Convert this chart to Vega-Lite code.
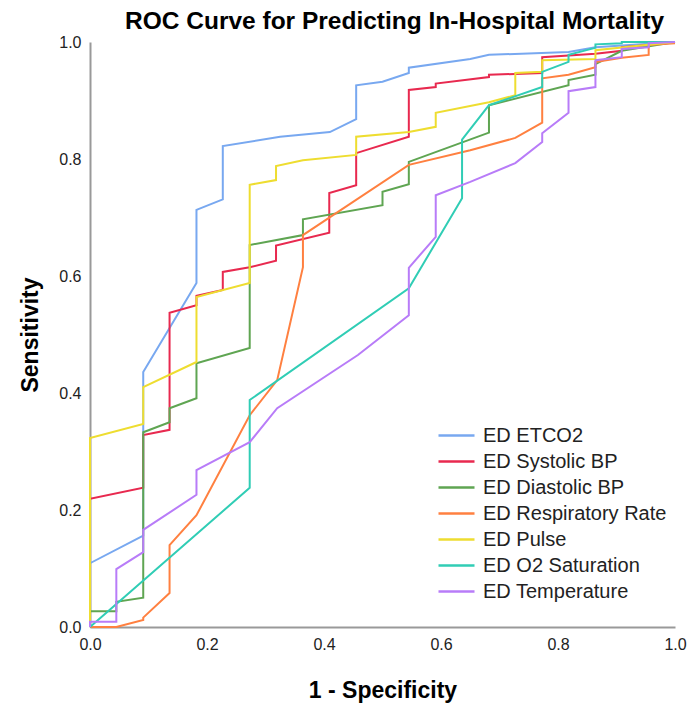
{
  "$schema": "https://vega.github.io/schema/vega-lite/v6.json",
  "width": 585,
  "height": 585,
  "autosize": "none",
  "padding": {"left": 90, "top": 42, "right": 13, "bottom": 81},
  "background": "white",
  "title": {
    "text": "ROC Curve for Predicting In-Hospital Mortality",
    "fontSize": 24.5,
    "fontWeight": "bold",
    "font": "Liberation Sans",
    "color": "#000000",
    "anchor": "middle",
    "dx": 12,
    "offset": 0
  },
  "config": {
    "view": {"stroke": null},
    "font": "Liberation Sans"
  },
  "data": {
    "values": [
      {"s": "ED ETCO2", "i": 0, "x": 0, "y": 0},
      {"s": "ED ETCO2", "i": 1, "x": 0, "y": 0.109},
      {"s": "ED ETCO2", "i": 2, "x": 0.091, "y": 0.156},
      {"s": "ED ETCO2", "i": 3, "x": 0.091, "y": 0.436},
      {"s": "ED ETCO2", "i": 4, "x": 0.182, "y": 0.588},
      {"s": "ED ETCO2", "i": 5, "x": 0.182, "y": 0.713},
      {"s": "ED ETCO2", "i": 6, "x": 0.227, "y": 0.731},
      {"s": "ED ETCO2", "i": 7, "x": 0.227, "y": 0.822},
      {"s": "ED ETCO2", "i": 8, "x": 0.325, "y": 0.838},
      {"s": "ED ETCO2", "i": 9, "x": 0.41, "y": 0.846},
      {"s": "ED ETCO2", "i": 10, "x": 0.455, "y": 0.868},
      {"s": "ED ETCO2", "i": 11, "x": 0.455, "y": 0.926},
      {"s": "ED ETCO2", "i": 12, "x": 0.5, "y": 0.932},
      {"s": "ED ETCO2", "i": 13, "x": 0.545, "y": 0.947},
      {"s": "ED ETCO2", "i": 14, "x": 0.545, "y": 0.956},
      {"s": "ED ETCO2", "i": 15, "x": 0.65, "y": 0.971},
      {"s": "ED ETCO2", "i": 16, "x": 0.682, "y": 0.978},
      {"s": "ED ETCO2", "i": 17, "x": 0.818, "y": 0.983},
      {"s": "ED ETCO2", "i": 18, "x": 0.864, "y": 0.991},
      {"s": "ED ETCO2", "i": 19, "x": 1, "y": 1},

      {"s": "ED Systolic BP", "i": 0, "x": 0, "y": 0},
      {"s": "ED Systolic BP", "i": 1, "x": 0, "y": 0.219},
      {"s": "ED Systolic BP", "i": 2, "x": 0.091, "y": 0.238},
      {"s": "ED Systolic BP", "i": 3, "x": 0.091, "y": 0.328},
      {"s": "ED Systolic BP", "i": 4, "x": 0.136, "y": 0.337},
      {"s": "ED Systolic BP", "i": 5, "x": 0.136, "y": 0.537},
      {"s": "ED Systolic BP", "i": 6, "x": 0.182, "y": 0.55},
      {"s": "ED Systolic BP", "i": 7, "x": 0.182, "y": 0.566},
      {"s": "ED Systolic BP", "i": 8, "x": 0.227, "y": 0.576},
      {"s": "ED Systolic BP", "i": 9, "x": 0.227, "y": 0.607},
      {"s": "ED Systolic BP", "i": 10, "x": 0.273, "y": 0.615},
      {"s": "ED Systolic BP", "i": 11, "x": 0.318, "y": 0.626},
      {"s": "ED Systolic BP", "i": 12, "x": 0.318, "y": 0.652},
      {"s": "ED Systolic BP", "i": 13, "x": 0.409, "y": 0.674},
      {"s": "ED Systolic BP", "i": 14, "x": 0.409, "y": 0.742},
      {"s": "ED Systolic BP", "i": 15, "x": 0.455, "y": 0.755},
      {"s": "ED Systolic BP", "i": 16, "x": 0.455, "y": 0.81},
      {"s": "ED Systolic BP", "i": 17, "x": 0.545, "y": 0.838},
      {"s": "ED Systolic BP", "i": 18, "x": 0.545, "y": 0.918},
      {"s": "ED Systolic BP", "i": 19, "x": 0.591, "y": 0.923},
      {"s": "ED Systolic BP", "i": 20, "x": 0.591, "y": 0.929},
      {"s": "ED Systolic BP", "i": 21, "x": 0.682, "y": 0.94},
      {"s": "ED Systolic BP", "i": 22, "x": 0.682, "y": 0.944},
      {"s": "ED Systolic BP", "i": 23, "x": 0.773, "y": 0.947},
      {"s": "ED Systolic BP", "i": 24, "x": 0.773, "y": 0.974},
      {"s": "ED Systolic BP", "i": 25, "x": 0.864, "y": 0.98},
      {"s": "ED Systolic BP", "i": 26, "x": 0.909, "y": 0.985},
      {"s": "ED Systolic BP", "i": 27, "x": 0.909, "y": 0.991},
      {"s": "ED Systolic BP", "i": 28, "x": 0.955, "y": 0.995},
      {"s": "ED Systolic BP", "i": 29, "x": 1, "y": 1},

      {"s": "ED Diastolic BP", "i": 0, "x": 0, "y": 0},
      {"s": "ED Diastolic BP", "i": 1, "x": 0, "y": 0.027},
      {"s": "ED Diastolic BP", "i": 2, "x": 0.045, "y": 0.027},
      {"s": "ED Diastolic BP", "i": 3, "x": 0.045, "y": 0.043},
      {"s": "ED Diastolic BP", "i": 4, "x": 0.091, "y": 0.05},
      {"s": "ED Diastolic BP", "i": 5, "x": 0.091, "y": 0.333},
      {"s": "ED Diastolic BP", "i": 6, "x": 0.136, "y": 0.35},
      {"s": "ED Diastolic BP", "i": 7, "x": 0.136, "y": 0.374},
      {"s": "ED Diastolic BP", "i": 8, "x": 0.182, "y": 0.391},
      {"s": "ED Diastolic BP", "i": 9, "x": 0.182, "y": 0.451},
      {"s": "ED Diastolic BP", "i": 10, "x": 0.273, "y": 0.477},
      {"s": "ED Diastolic BP", "i": 11, "x": 0.273, "y": 0.653},
      {"s": "ED Diastolic BP", "i": 12, "x": 0.364, "y": 0.67},
      {"s": "ED Diastolic BP", "i": 13, "x": 0.364, "y": 0.697},
      {"s": "ED Diastolic BP", "i": 14, "x": 0.5, "y": 0.721},
      {"s": "ED Diastolic BP", "i": 15, "x": 0.5, "y": 0.744},
      {"s": "ED Diastolic BP", "i": 16, "x": 0.545, "y": 0.757},
      {"s": "ED Diastolic BP", "i": 17, "x": 0.545, "y": 0.795},
      {"s": "ED Diastolic BP", "i": 18, "x": 0.682, "y": 0.845},
      {"s": "ED Diastolic BP", "i": 19, "x": 0.682, "y": 0.892},
      {"s": "ED Diastolic BP", "i": 20, "x": 0.818, "y": 0.926},
      {"s": "ED Diastolic BP", "i": 21, "x": 0.818, "y": 0.935},
      {"s": "ED Diastolic BP", "i": 22, "x": 0.864, "y": 0.944},
      {"s": "ED Diastolic BP", "i": 23, "x": 0.864, "y": 0.962},
      {"s": "ED Diastolic BP", "i": 24, "x": 0.909, "y": 0.985},
      {"s": "ED Diastolic BP", "i": 25, "x": 1, "y": 1},

      {"s": "ED Respiratory Rate", "i": 0, "x": 0, "y": 0},
      {"s": "ED Respiratory Rate", "i": 1, "x": 0.045, "y": 0},
      {"s": "ED Respiratory Rate", "i": 2, "x": 0.091, "y": 0.012},
      {"s": "ED Respiratory Rate", "i": 3, "x": 0.091, "y": 0.016},
      {"s": "ED Respiratory Rate", "i": 4, "x": 0.136, "y": 0.058},
      {"s": "ED Respiratory Rate", "i": 5, "x": 0.136, "y": 0.14},
      {"s": "ED Respiratory Rate", "i": 6, "x": 0.182, "y": 0.191},
      {"s": "ED Respiratory Rate", "i": 7, "x": 0.273, "y": 0.362},
      {"s": "ED Respiratory Rate", "i": 8, "x": 0.32, "y": 0.422},
      {"s": "ED Respiratory Rate", "i": 9, "x": 0.364, "y": 0.615},
      {"s": "ED Respiratory Rate", "i": 10, "x": 0.364, "y": 0.67},
      {"s": "ED Respiratory Rate", "i": 11, "x": 0.545, "y": 0.79},
      {"s": "ED Respiratory Rate", "i": 12, "x": 0.65, "y": 0.815},
      {"s": "ED Respiratory Rate", "i": 13, "x": 0.727, "y": 0.836},
      {"s": "ED Respiratory Rate", "i": 14, "x": 0.773, "y": 0.862},
      {"s": "ED Respiratory Rate", "i": 15, "x": 0.773, "y": 0.938},
      {"s": "ED Respiratory Rate", "i": 16, "x": 0.818, "y": 0.944},
      {"s": "ED Respiratory Rate", "i": 17, "x": 0.864, "y": 0.957},
      {"s": "ED Respiratory Rate", "i": 18, "x": 0.864, "y": 0.966},
      {"s": "ED Respiratory Rate", "i": 19, "x": 0.909, "y": 0.973},
      {"s": "ED Respiratory Rate", "i": 20, "x": 0.955, "y": 0.978},
      {"s": "ED Respiratory Rate", "i": 21, "x": 0.955, "y": 0.995},
      {"s": "ED Respiratory Rate", "i": 22, "x": 1, "y": 0.998},

      {"s": "ED Pulse", "i": 0, "x": 0, "y": 0},
      {"s": "ED Pulse", "i": 1, "x": 0, "y": 0.323},
      {"s": "ED Pulse", "i": 2, "x": 0.091, "y": 0.347},
      {"s": "ED Pulse", "i": 3, "x": 0.091, "y": 0.41},
      {"s": "ED Pulse", "i": 4, "x": 0.182, "y": 0.453},
      {"s": "ED Pulse", "i": 5, "x": 0.182, "y": 0.564},
      {"s": "ED Pulse", "i": 6, "x": 0.273, "y": 0.588},
      {"s": "ED Pulse", "i": 7, "x": 0.273, "y": 0.756},
      {"s": "ED Pulse", "i": 8, "x": 0.318, "y": 0.764},
      {"s": "ED Pulse", "i": 9, "x": 0.318, "y": 0.788},
      {"s": "ED Pulse", "i": 10, "x": 0.364, "y": 0.798},
      {"s": "ED Pulse", "i": 11, "x": 0.455, "y": 0.807},
      {"s": "ED Pulse", "i": 12, "x": 0.455, "y": 0.838},
      {"s": "ED Pulse", "i": 13, "x": 0.545, "y": 0.846},
      {"s": "ED Pulse", "i": 14, "x": 0.591, "y": 0.855},
      {"s": "ED Pulse", "i": 15, "x": 0.591, "y": 0.879},
      {"s": "ED Pulse", "i": 16, "x": 0.682, "y": 0.897},
      {"s": "ED Pulse", "i": 17, "x": 0.727, "y": 0.909},
      {"s": "ED Pulse", "i": 18, "x": 0.727, "y": 0.947},
      {"s": "ED Pulse", "i": 19, "x": 0.773, "y": 0.949},
      {"s": "ED Pulse", "i": 20, "x": 0.773, "y": 0.969},
      {"s": "ED Pulse", "i": 21, "x": 0.864, "y": 0.971},
      {"s": "ED Pulse", "i": 22, "x": 0.864, "y": 0.986},
      {"s": "ED Pulse", "i": 23, "x": 1, "y": 1},

      {"s": "ED O2 Saturation", "i": 0, "x": 0, "y": 0},
      {"s": "ED O2 Saturation", "i": 1, "x": 0.273, "y": 0.238},
      {"s": "ED O2 Saturation", "i": 2, "x": 0.273, "y": 0.388},
      {"s": "ED O2 Saturation", "i": 3, "x": 0.545, "y": 0.579},
      {"s": "ED O2 Saturation", "i": 4, "x": 0.636, "y": 0.733},
      {"s": "ED O2 Saturation", "i": 5, "x": 0.636, "y": 0.833},
      {"s": "ED O2 Saturation", "i": 6, "x": 0.682, "y": 0.892},
      {"s": "ED O2 Saturation", "i": 7, "x": 0.773, "y": 0.923},
      {"s": "ED O2 Saturation", "i": 8, "x": 0.773, "y": 0.949},
      {"s": "ED O2 Saturation", "i": 9, "x": 0.818, "y": 0.966},
      {"s": "ED O2 Saturation", "i": 10, "x": 0.818, "y": 0.978},
      {"s": "ED O2 Saturation", "i": 11, "x": 0.864, "y": 0.99},
      {"s": "ED O2 Saturation", "i": 12, "x": 0.864, "y": 0.996},
      {"s": "ED O2 Saturation", "i": 13, "x": 0.909, "y": 0.998},
      {"s": "ED O2 Saturation", "i": 14, "x": 0.909, "y": 1},
      {"s": "ED O2 Saturation", "i": 15, "x": 1, "y": 1},

      {"s": "ED Temperature", "i": 0, "x": 0, "y": 0},
      {"s": "ED Temperature", "i": 1, "x": 0, "y": 0.009},
      {"s": "ED Temperature", "i": 2, "x": 0.045, "y": 0.009},
      {"s": "ED Temperature", "i": 3, "x": 0.045, "y": 0.099},
      {"s": "ED Temperature", "i": 4, "x": 0.091, "y": 0.128},
      {"s": "ED Temperature", "i": 5, "x": 0.091, "y": 0.166},
      {"s": "ED Temperature", "i": 6, "x": 0.182, "y": 0.226},
      {"s": "ED Temperature", "i": 7, "x": 0.182, "y": 0.268},
      {"s": "ED Temperature", "i": 8, "x": 0.273, "y": 0.316},
      {"s": "ED Temperature", "i": 9, "x": 0.32, "y": 0.374},
      {"s": "ED Temperature", "i": 10, "x": 0.458, "y": 0.465},
      {"s": "ED Temperature", "i": 11, "x": 0.545, "y": 0.533},
      {"s": "ED Temperature", "i": 12, "x": 0.545, "y": 0.614},
      {"s": "ED Temperature", "i": 13, "x": 0.591, "y": 0.667},
      {"s": "ED Temperature", "i": 14, "x": 0.591, "y": 0.738},
      {"s": "ED Temperature", "i": 15, "x": 0.65, "y": 0.761},
      {"s": "ED Temperature", "i": 16, "x": 0.727, "y": 0.793},
      {"s": "ED Temperature", "i": 17, "x": 0.773, "y": 0.829},
      {"s": "ED Temperature", "i": 18, "x": 0.773, "y": 0.844},
      {"s": "ED Temperature", "i": 19, "x": 0.818, "y": 0.879},
      {"s": "ED Temperature", "i": 20, "x": 0.818, "y": 0.916},
      {"s": "ED Temperature", "i": 21, "x": 0.864, "y": 0.923},
      {"s": "ED Temperature", "i": 22, "x": 0.864, "y": 0.969},
      {"s": "ED Temperature", "i": 23, "x": 0.909, "y": 0.974},
      {"s": "ED Temperature", "i": 24, "x": 0.909, "y": 0.988},
      {"s": "ED Temperature", "i": 25, "x": 0.955, "y": 0.991},
      {"s": "ED Temperature", "i": 26, "x": 0.955, "y": 0.998},
      {"s": "ED Temperature", "i": 27, "x": 1, "y": 1}
    ]
  },
  "mark": {"type": "line", "strokeWidth": 2, "clip": false},
  "encoding": {
    "x": {
      "field": "x",
      "type": "quantitative",
      "scale": {"domain": [0, 1], "nice": false, "zero": false},
      "axis": {
        "title": "1 - Specificity",
        "values": [0, 0.2, 0.4, 0.6, 0.8, 1],
        "format": ".1f",
        "grid": false,
        "ticks": false,
        "tickSize": 0,
        "domainColor": "#999999",
        "domainWidth": 2,
        "labelFontSize": 16,
        "labelColor": "#222222",
        "labelPadding": 9,
        "labelFlush": false,
        "titleFontSize": 23,
        "titleFontWeight": "bold",
        "titleColor": "#000000",
        "titlePadding": 27
      }
    },
    "y": {
      "field": "y",
      "type": "quantitative",
      "scale": {"domain": [0, 1], "nice": false, "zero": false},
      "axis": {
        "title": "Sensitivity",
        "values": [0, 0.2, 0.4, 0.6, 0.8, 1],
        "format": ".1f",
        "grid": false,
        "ticks": false,
        "tickSize": 0,
        "domainColor": "#999999",
        "domainWidth": 2,
        "labelFontSize": 16,
        "labelColor": "#222222",
        "labelPadding": 9,
        "labelFlush": false,
        "titleFontSize": 23,
        "titleFontWeight": "bold",
        "titleColor": "#000000",
        "titlePadding": 16
      }
    },
    "color": {
      "field": "s",
      "type": "nominal",
      "scale": {
        "domain": ["ED ETCO2", "ED Systolic BP", "ED Diastolic BP", "ED Respiratory Rate", "ED Pulse", "ED O2 Saturation", "ED Temperature"],
        "range": ["#78A8F0", "#E8294F", "#5FA552", "#FF8040", "#EEDD30", "#30CDB5", "#B87CF8"]
      },
      "legend": {
        "title": null,
        "orient": "none",
        "legendX": 356,
        "legendY": 383,
        "padding": 0,
        "symbolType": "M-2,0L2,0",
        "symbolSize": 324,
        "symbolStrokeWidth": 2.5,
        "labelFontSize": 20,
        "labelColor": "#222222",
        "labelOffset": 16,
        "rowPadding": 5,
        "labelLimit": 400
      }
    },
    "order": {"field": "i", "type": "quantitative"}
  }
}
